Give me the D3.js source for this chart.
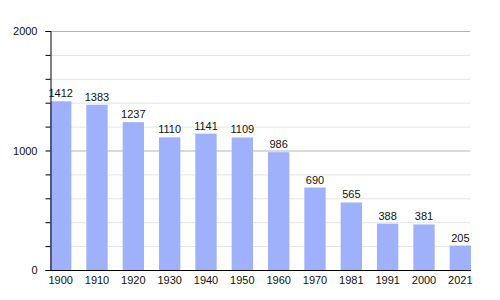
<!DOCTYPE html>
<html><head><meta charset="utf-8">
<script src="https://cdn.jsdelivr.net/npm/d3@7"></script>
<style>body{margin:0;background:#fff}svg{display:block;font-family:"Liberation Sans",Arial,sans-serif}</style>
</head><body><svg id="c" width="500" height="300"></svg>
<script>
const years = ["1900","1910","1920","1930","1940","1950","1960","1970","1981","1991","2000","2021"];
const population = [1412,1383,1237,1110,1141,1109,986,690,565,388,381,205];
const majorTicks = [0,1000,2000];
const minorTicks = [200,400,600,800,1200,1400,1600,1800];

(function(){
const svg = d3.select("#c");
const mLeft = 50, mRight = 470, mTop = 31, mBottom = 270;
const y = d3.scaleLinear().domain([0,2000]).range([mBottom, mTop]);
const x = d3.scaleBand().domain(years).range([mLeft, 471]).paddingInner(15/36.36).paddingOuter(0).align(0);

svg.append("g").selectAll("line").data(minorTicks).join("line")
  .attr("x1", mLeft).attr("x2", mRight).attr("y1", d=>y(d)+0.5).attr("y2", d=>y(d)+0.5)
  .attr("stroke", "#e4e4e4").attr("stroke-width", 1);
svg.append("g").selectAll("line").data([1000,2000]).join("line")
  .attr("x1", mLeft).attr("x2", mRight).attr("y1", d=>y(d)+0.5).attr("y2", d=>y(d)+0.5)
  .attr("stroke", "#b4b4b4").attr("stroke-width", 1);

svg.append("g").selectAll("rect").data(population).join("rect")
  .attr("x", (d,i)=>x(years[i])).attr("width", x.bandwidth())
  .attr("y", d=>y(d)).attr("height", d=>mBottom - y(d))
  .attr("fill", "#9eb1fa");

svg.append("g").selectAll("text").data(population).join("text")
  .attr("x", (d,i)=>x(years[i]) + x.bandwidth()/2).attr("y", d=>y(d) - 4)
  .attr("text-anchor", "middle").attr("font-size", 11).attr("fill", "#111")
  .text(d=>d);

const yAxis = d3.axisLeft(y).tickValues(d3.range(0,2001,200)).tickSize(5).tickFormat(d => majorTicks.includes(d) ? d : "");
const ga = svg.append("g").attr("transform", `translate(${mLeft+0.5},0)`).call(yAxis);
ga.select(".domain").attr("stroke", "#000");
ga.selectAll(".tick line").attr("stroke", "#000");
ga.selectAll(".tick text").attr("x", -13).attr("font-size", 11).attr("fill", "#111").attr("font-family", "Liberation Sans, Arial, sans-serif");

const xAxis = d3.axisBottom(x).tickSize(0).tickPadding(6);
const gx = svg.append("g").attr("transform", `translate(0,${mBottom+0.5})`).call(xAxis);
gx.select(".domain").remove();
gx.append("line").attr("x1", mLeft).attr("x2", mRight+1).attr("stroke", "#000");
gx.selectAll(".tick text").attr("font-size", 11).attr("fill", "#111").attr("font-family", "Liberation Sans, Arial, sans-serif");
})();
</script></body></html>
